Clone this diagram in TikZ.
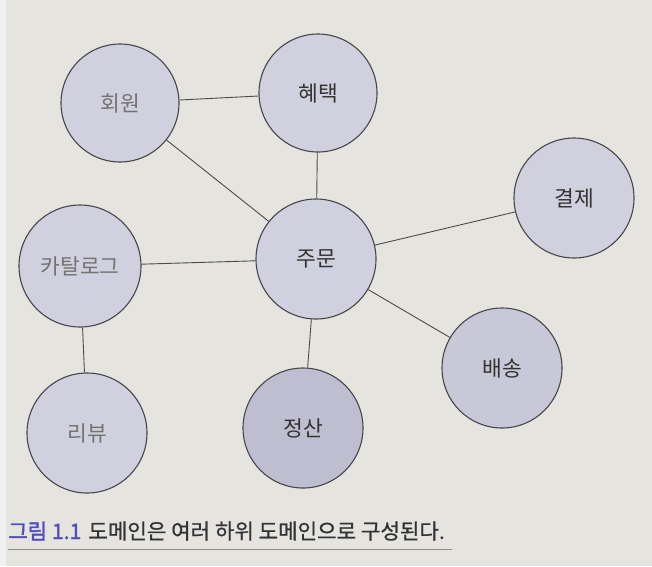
\documentclass[tikz,border=0pt]{standalone}
\usepackage{fontspec}
\setmainfont{Noto Sans CJK KR}
\newfontfamily\krbold{Noto Sans CJK KR}[FakeBold=2]
\newfontfamily\krmed{Noto Sans CJK KR}[FakeBold=0.6]
\definecolor{paper}{RGB}{229,228,222}
\definecolor{disc}{RGB}{208,208,222}
\definecolor{discmid}{RGB}{200,200,216}
\definecolor{discdark}{RGB}{190,190,208}
\definecolor{rimc}{RGB}{70,70,75}
\definecolor{linkc}{RGB}{75,75,72}
\definecolor{capblue}{RGB}{80,78,190}
\definecolor{captext}{RGB}{50,50,55}
\tikzset{
  dombox/.style={circle, draw=rimc, line width=1.1pt, fill=disc, minimum size=120pt, inner sep=0pt, font=\fontsize{21.5}{24}\selectfont},
  faded/.style={text=black!55},
  solidtxt/.style={text=black!80},
  link/.style={draw=linkc, line width=0.9pt},
}
\begin{document}
\begin{tikzpicture}[x=1pt,y=-1pt]
\fill[paper] (0,0) rectangle (652,566);
\fill[black!6] (0,0) rectangle (6,566);
\useasboundingbox (0,0) rectangle (652,566);

\node[dombox, faded, minimum size=118pt] (member) at (120,103) {회원};
\node[dombox, solidtxt, minimum size=118pt] (benefit) at (318,93) {혜택};
\node[dombox, solidtxt] (payment) at (574,198) {결제};
\node[dombox, faded, minimum size=122pt] (catalog) at (80,266) {카탈로그};
\node[dombox, solidtxt] (order) at (316,259) {주문};
\node[dombox, solidtxt, fill=discmid] (delivery) at (502,368) {배송};
\node[dombox, solidtxt, fill=discdark] (settle) at (303,428) {정산};
\node[dombox, faded] (review) at (87,433) {리뷰};

\draw[link] (member) -- (benefit);
\draw[link] (member) -- (order);
\draw[link] (benefit) -- (order);
\draw[link] (order) -- (payment);
\draw[link] (catalog) -- (order);
\draw[link] (catalog) -- (review);
\draw[link] (order) -- (settle);
\draw[link] (order) -- (delivery);

\node[anchor=base west, inner sep=0pt, font=\fontsize{21.2}{24}\selectfont] (caption) at (8,539)
  {{\krbold\color{capblue}그림 1.1}\hspace{7pt}{\krmed\color{captext}도메인은 여러 하위 도메인으로 구성된다.}};
\coordinate (ulstart) at (8,549);
\coordinate (ulend) at (452,549);
\draw[black!45, line width=0.6pt] (ulstart) -- (ulend);
\end{tikzpicture}
\end{document}
